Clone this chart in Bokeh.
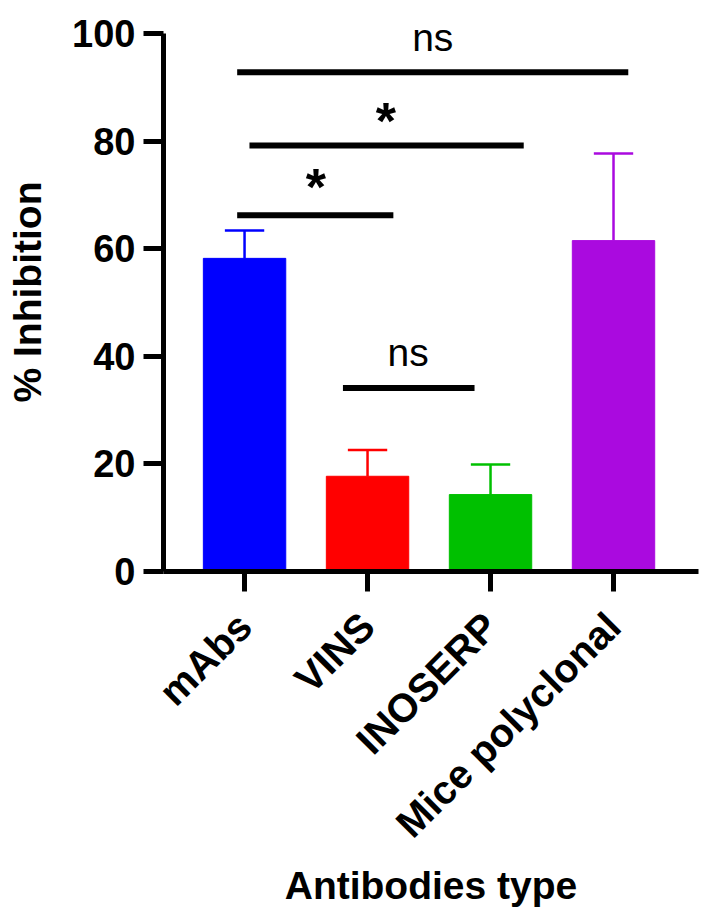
from math import pi
from bokeh.plotting import figure
from bokeh.models import Range1d, FixedTicker, ColumnDataSource
from bokeh.core.properties import value
from bokeh.embed import file_html
from bokeh.resources import INLINE

# ---- data ----
categories = ["mAbs", "VINS", "INOSERP", "Mice polyclonal"]
means = [58.2, 17.7, 14.3, 61.5]
errors = [5.2, 4.9, 5.6, 16.2]
colors = ["#0000FF", "#FF0000", "#00C000", "#AA0ADF"]
y_ticks = [0, 20, 40, 60, 80, 100]

# significance bars (x in category-index units, y in % inhibition)
sig_x0 = [-0.06, 0.04, -0.06, 0.80]
sig_x1 = [3.12, 2.27, 1.21, 1.87]
sig_y = [92.8, 79.2, 66.2, 34.1]
sig_label = ["ns", "*", "*", "ns"]
sig_label_x = [1.53, 1.15, 0.58, 1.33]
sig_label_y = [99.3, 83.8, 71.5, 40.7]

FONT = "Liberation Sans"
xs = list(range(len(categories)))

p = figure(width=703, height=915, output_backend="svg", toolbar_location=None,
           x_range=Range1d(-0.659, 3.691), y_range=Range1d(0, 103.9),
           min_border_left=163, min_border_right=5, min_border_top=12, min_border_bottom=344)
p.outline_line_color = None
p.xgrid.visible = False
p.ygrid.visible = False
p.background_fill_color = "white"
p.border_fill_color = "white"

src = ColumnDataSource(dict(x=xs, top=means, err_top=[m + e for m, e in zip(means, errors)],
                            color=colors,
                            cap0=[x - 0.16 for x in xs], cap1=[x + 0.16 for x in xs]))
p.vbar(x="x", top="top", bottom=0, width=0.67, color="color", source=src)
p.segment(x0="x", y0="top", x1="x", y1="err_top", line_color="color", line_width=2.5, source=src)
p.segment(x0="cap0", y0="err_top", x1="cap1", y1="err_top", line_color="color", line_width=2.5, source=src)

# significance
p.segment(x0=sig_x0, y0=sig_y, x1=sig_x1, y1=sig_y, line_color="black", line_width=6)
ns_idx = [i for i, s in enumerate(sig_label) if s == "ns"]
st_idx = [i for i, s in enumerate(sig_label) if s != "ns"]
p.text(x=[sig_label_x[i] for i in ns_idx], y=[sig_label_y[i] for i in ns_idx],
       text=[sig_label[i] for i in ns_idx], text_font=value(FONT), text_font_size="39px",
       text_align="center", text_baseline="middle", text_color="black")
p.text(x=[sig_label_x[i] for i in st_idx], y=[sig_label_y[i] for i in st_idx],
       text=[sig_label[i] for i in st_idx], text_font=value(FONT), text_font_size="52px",
       text_font_style="bold", text_align="center", text_baseline="middle", text_color="black")

# axes
for ax in (p.xaxis[0], p.yaxis[0]):
    ax.axis_line_width = 5
    ax.axis_line_color = "black"
    ax.major_tick_line_width = 5
    ax.major_tick_line_color = "black"
    ax.major_tick_out = 20
    ax.major_tick_in = 0
    ax.minor_tick_line_color = None
    ax.major_label_text_font = FONT
    ax.major_label_text_font_style = "bold"
    ax.major_label_text_font_size = "38px"
    ax.major_label_text_color = "black"
    ax.axis_label_text_font = FONT
    ax.axis_label_text_font_style = "bold"
    ax.axis_label_text_font_size = "39px"
    ax.axis_label_text_color = "black"

p.yaxis.ticker = FixedTicker(ticks=y_ticks)
p.yaxis.bounds = (0, 100)
p.yaxis.major_label_standoff = 8
p.yaxis.axis_label = "% Inhibition"
p.yaxis.axis_label_standoff = 20

p.xaxis.ticker = FixedTicker(ticks=xs)
p.xaxis.major_label_overrides = {i: c for i, c in enumerate(categories)}
p.xaxis.major_label_orientation = pi / 4
p.xaxis.major_label_text_font_size = "40px"
p.xaxis.major_label_standoff = 28
p.xaxis.axis_label = "Antibodies type"
p.xaxis.axis_label_standoff = 0

open("out.html", "w").write(file_html(p, INLINE))
